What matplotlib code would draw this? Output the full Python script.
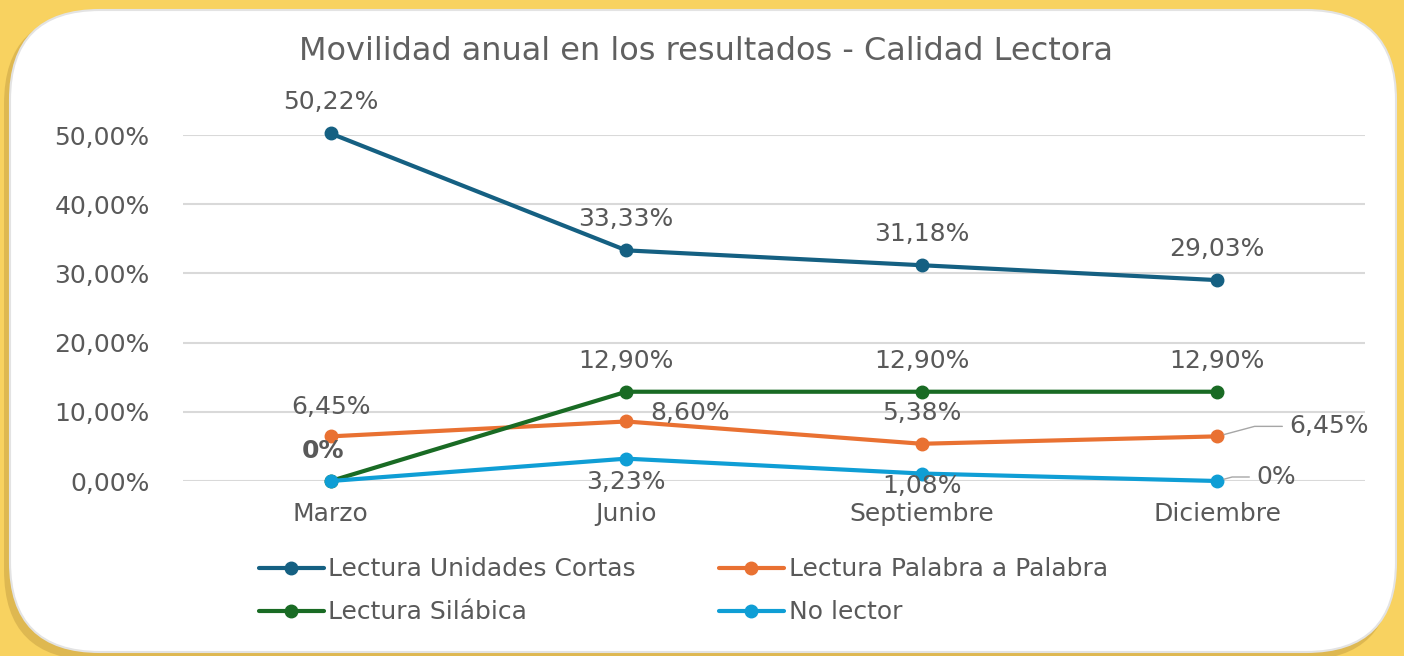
import matplotlib
matplotlib.use("Agg")
import matplotlib.pyplot as plt
from matplotlib.patches import FancyBboxPatch
from matplotlib.ticker import FuncFormatter

# datos (porcentajes)
meses = ["Marzo", "Junio", "Septiembre", "Diciembre"]
unidades_cortas = [50.22, 33.33, 31.18, 29.03]
palabra_a_palabra = [6.45, 8.60, 5.38, 6.45]
silabica = [0.0, 12.90, 12.90, 12.90]
no_lector = [0.0, 3.23, 1.08, 0.0]

etiq_unidades = ["50,22%", "33,33%", "31,18%", "29,03%"]
etiq_palabra = ["6,45%", "8,60%", "5,38%", "6,45%"]
etiq_silabica = ["0%", "12,90%", "12,90%", "12,90%"]
etiq_no_lector = ["0%", "3,23%", "1,08%", "0%"]

y_ticks = [0, 10, 20, 30, 40, 50]

AZUL = "#156082"
NARANJA = "#E97132"
VERDE = "#196B24"
CELESTE = "#0F9ED5"
GRIS = "#595959"
AMARILLO = "#F8D260"

W, H = 1404, 656
fig = plt.figure(figsize=(W / 100, H / 100), dpi=100)
fig.patch.set_facecolor(AMARILLO)

# fondo: tarjeta blanca redondeada con sombra
bg = fig.add_axes([0, 0, 1, 1], zorder=-1)
bg.set_xlim(0, W)
bg.set_ylim(H, 0)
bg.axis("off")
sombra = FancyBboxPatch((4, 14), 1388, 646, boxstyle="round,pad=0,rounding_size=90",
                        facecolor="#C9A445", edgecolor="none", alpha=0.55)
bg.add_patch(sombra)
tarjeta = FancyBboxPatch((10, 10), 1386, 642, boxstyle="round,pad=0,rounding_size=90",
                         facecolor="white", edgecolor="#E3E3E3", linewidth=1.5)
bg.add_patch(tarjeta)

ax = fig.add_axes([183 / W, 1 - 481 / H, (1365 - 183) / W, (481 - 135) / H])
ax.set_facecolor("none")

x = list(range(len(meses)))
series = [
    ("Lectura Unidades Cortas", unidades_cortas, AZUL),
    ("Lectura Palabra a Palabra", palabra_a_palabra, NARANJA),
    ("Lectura Silábica", silabica, VERDE),
    ("No lector", no_lector, CELESTE),
]
lineas = {}
for nombre, vals, color in series:
    (l,) = ax.plot(x, vals, color=color, lw=3, marker="o", markersize=9,
                   solid_capstyle="round", label=nombre, zorder=3, clip_on=False)
    lineas[nombre] = l

ax.set_xlim(-0.5, 3.5)
ax.set_ylim(0, 50)
ax.set_yticks(y_ticks)
ax.yaxis.set_major_formatter(FuncFormatter(lambda v, p: f"{v:.2f}%".replace(".", ",")))
ax.set_xticks(x)
ax.set_xticklabels(meses)
ax.grid(axis="y", color="#D9D9D9", lw=1.5, zorder=0)
ax.set_axisbelow(True)
for s in ax.spines.values():
    s.set_visible(False)
fs = 18
ax.tick_params(length=0, labelsize=fs, labelcolor=GRIS)
ax.tick_params(axis="y", pad=24)
ax.tick_params(axis="x", pad=15)


def etiqueta(i, val, txt, dx, dy, ha="center", **kw):
    ax.annotate(txt, (i, val), xytext=(dx, dy), textcoords="offset pixels",
                ha=ha, va="center", fontsize=fs, color=GRIS, zorder=4,
                annotation_clip=False, **kw)


for i, v in enumerate(unidades_cortas):
    etiqueta(i, v, etiq_unidades[i], 0, 31)
for i in range(1, 4):
    etiqueta(i, silabica[i], etiq_silabica[i], 0, 31)
etiqueta(0, silabica[0], etiq_silabica[0], -8, 30, fontweight="bold")

etiqueta(0, palabra_a_palabra[0], etiq_palabra[0], 0, 29)
etiqueta(1, palabra_a_palabra[1], etiq_palabra[1], 64, 8)
etiqueta(2, palabra_a_palabra[2], etiq_palabra[2], 0, 31)
ax.annotate(etiq_palabra[3], (3, palabra_a_palabra[3]), xytext=(72, 10),
            textcoords="offset pixels", ha="left", va="center", fontsize=fs, color=GRIS,
            arrowprops=dict(arrowstyle="-", color="#A6A6A6", lw=1,
                            shrinkA=3, shrinkB=5,
                            connectionstyle="angle,angleA=180,angleB=15,rad=0"))

etiqueta(1, no_lector[1], etiq_no_lector[1], 0, -23)
etiqueta(2, no_lector[2], etiq_no_lector[2], 0, -12)
ax.annotate(etiq_no_lector[3], (3, no_lector[3]), xytext=(39, 4),
            textcoords="offset pixels", ha="left", va="center", fontsize=fs, color=GRIS,
            annotation_clip=False,
            arrowprops=dict(arrowstyle="-", color="#A6A6A6", lw=1,
                            shrinkA=3, shrinkB=5,
                            connectionstyle="angle,angleA=180,angleB=15,rad=0"))

fig.text(706 / W, 1 - 52 / H, "Movilidad anual en los resultados - Calidad Lectora",
         ha="center", va="center", fontsize=23, color="#606060")

orden = ["Lectura Unidades Cortas", "Lectura Silábica", "Lectura Palabra a Palabra", "No lector"]
fig.legend(handles=[lineas[n] for n in orden], loc="upper left",
           bbox_to_anchor=(246 / W, 1 - 545 / H), ncol=2, frameon=False,
           fontsize=fs, labelcolor=GRIS, handlelength=2.6, handletextpad=0.2,
           columnspacing=3.3, labelspacing=0.75, borderpad=0)

fig.savefig("out.png", dpi=100, facecolor=fig.get_facecolor())
